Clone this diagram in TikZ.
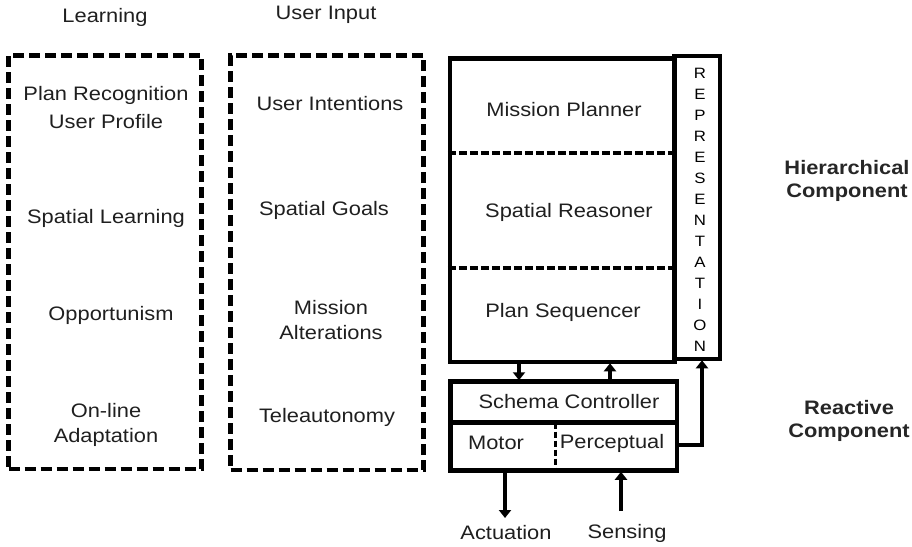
\documentclass[tikz,border=0pt]{standalone}
\usepackage{fontspec}
\setmainfont{Liberation Sans}[FakeStretch=1.12]
\usetikzlibrary{arrows.meta}

\begin{document}
\begin{tikzpicture}[x=1pt,y=-1pt,
  dbox/.style={draw, line width=4.5pt, dash pattern=on 11pt off 5pt, inner sep=0pt},
  sbox/.style={draw, line width=4.5pt, inner sep=0pt},
  sepline/.style={line width=4pt, dash pattern=on 8pt off 3pt},
  divline/.style={line width=3pt, dash pattern=on 6pt off 3pt},
  lbl/.style={font=\fontsize{19.5}{25}\selectfont, align=center, inner sep=0pt, text=black!88},
  side/.style={font=\bfseries\fontsize{19.5}{23}\selectfont, align=center, inner sep=0pt, text=black!85},
  letters/.style={font=\fontsize{15}{21}\selectfont, align=center, inner sep=0pt},
  arr/.style={line width=4.5pt, -{Triangle[width=12pt,length=8pt]}}
]
\useasboundingbox (0,0) rectangle (912,546);

% column headings
\node[lbl] (learnT) at (105,17) {Learning};
\node[lbl] (userT)  at (326,15) {User Input};

% dashed side columns
\node[dbox, minimum width=193pt, minimum height=413.5pt] (learn) at (105,262.25) {};
\node[dbox, minimum width=193pt, minimum height=414.5pt] (user)  at (327,262.75) {};

\node[lbl] (planrec) at (106,108) {Plan Recognition\\[3pt]User Profile};
\node[lbl] (spl)     at (106,218) {Spatial Learning};
\node[lbl] (opp)     at (111,315) {Opportunism};
\node[lbl] (online)  at (106,425) {On-line\\Adaptation};

\node[lbl] (uint)  at (330,104) {User Intentions};
\node[lbl] (sgoal) at (324,210) {Spatial Goals};
\node[lbl] (malt)  at (331,320) {Mission\\Alterations};
\node[lbl] (tele)  at (327,417) {Teleautonomy};

% hierarchical component
\node[sbox, minimum width=224.5pt, minimum height=303.5pt] (hier) at (562.25,210.25) {};
\node[sbox, minimum width=45.5pt, minimum height=303pt] (repr) at (697.25,207.5) {};
\coordinate (d1) at (0,153);
\coordinate (d2) at (0,268);
\draw[sepline] (hier.west |- d1) -- (hier.east |- d1);
\draw[sepline] (hier.west |- d2) -- (hier.east |- d2);

\node[lbl] (mp) at (564,110) {Mission Planner};
\node[lbl] (sr) at (569,212) {Spatial Reasoner};
\node[lbl] (ps) at (563,312) {Plan Sequencer};
\node[letters] (reprT) at (700,210) {R\\E\\P\\R\\E\\S\\E\\N\\T\\A\\T\\I\\O\\N};

% reactive component
\node[sbox, minimum width=226.5pt, minimum height=89pt] (react) at (563.75,426) {};
\coordinate (rm) at (0,422.5);
\coordinate (vx) at (555,0);
\draw[line width=4.5pt] (react.west |- rm) -- (react.east |- rm);
\draw[divline] (vx |- rm) -- (vx |- react.south);

\node[lbl] (sc)   at (569,402) {Schema Controller};
\node[lbl] (mot)  at (496,443) {Motor};
\node[lbl] (perc) at (612,443) {Perceptual};

% side labels
\node[side] (hierT)  at (847,181) {Hierarchical\\Component};
\node[side] (reactT) at (849,421) {Reactive\\Component};

% connectors
\coordinate (ax) at (519,0);
\coordinate (bx) at (610,0);
\coordinate (cx) at (702,0);
\coordinate (py) at (0,445);
\draw[arr] (hier.south -| ax) -- ([yshift=-1pt]react.north -| ax);
\draw[arr] (react.north -| bx) -- ([yshift=1pt]hier.south -| bx);
\draw[arr, line join=miter] (react.east |- py) -- (cx |- py) -- ([yshift=1pt]repr.south -| cx);

% external inputs and outputs
\node[lbl] (act)  at (506,533) {Actuation};
\node[lbl] (sens) at (627,533) {Sensing};
\coordinate (acx) at (505,0);
\coordinate (snx) at (621,0);
\coordinate (acy) at (0,518);
\coordinate (sny) at (0,511);
\draw[arr] (react.south -| acx) -- (acx |- acy);
\draw[arr] (snx |- sny) -- ([yshift=1pt]react.south -| snx);
\end{tikzpicture}
\end{document}
